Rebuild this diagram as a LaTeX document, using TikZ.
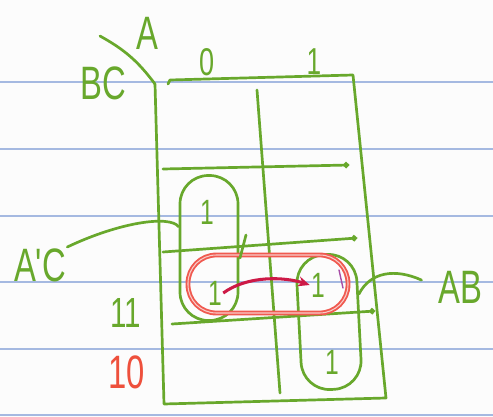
\documentclass[tikz,border=0pt]{standalone}
\usepackage{fontspec}
\newfontfamily\hand[FakeStretch=0.7]{Liberation Sans}
\usetikzlibrary{arrows.meta}
\definecolor{pengreen}{RGB}{104,168,44}
\definecolor{paperblue}{RGB}{165,185,225}
\definecolor{paper}{RGB}{252,252,252}
\definecolor{loopred}{RGB}{240,90,80}
\definecolor{arrowred}{RGB}{205,25,70}
\definecolor{numred}{RGB}{238,80,60}

\begin{document}
\begin{tikzpicture}[
      x=0.03cm, y=-0.03cm,
      pen/.style={draw=pengreen, line width=2.3pt, line cap=round, line join=round},
      rowline/.style={pen, -{Circle[length=5pt]}},
      lbl/.style={text=pengreen, inner sep=1pt, font=\hand\fontsize{40}{40}\selectfont},
      one/.style={text=pengreen, inner sep=1pt, font=\hand\fontsize{30}{30}\selectfont},
      loopbox/.style={pen, rectangle, inner sep=0pt, rounded corners=0.85cm},
      redloop/.style={rectangle, inner sep=0pt, rounded corners=0.85cm, draw=loopred,
        line width=1.6pt, double=paper!70!loopred, double distance=0.9pt,
        minimum width=4.8cm, minimum height=1.74cm},
      arr/.style={-{Stealth[length=3.5mm, width=3mm]}, draw=arrowred, line width=2.6pt},
    ]
    % sheet of lined paper
    \fill[paper] (0,0) rectangle (493,417);
    \useasboundingbox (0,0) rectangle (493,417);
    \foreach \y in {82,149,216,282,349,415}
      \draw[paperblue, line width=1pt] (0,\y) -- (493,\y);

    % map frame
    \draw[pen] (168,84) -- (170,80) -- (353,75) -- (386,398) -- (164,404) -- (155,84);
    \draw[pen] (257,90) -- (280,393);
    \draw[rowline] (163,169) -- (349,165);
    \draw[rowline] (163,252) -- (357,238);
    \draw[rowline] (172,324) -- (375,311);
    \draw[pen] (100,36) to[bend left=12] (155,84);

    % headings
    \node[lbl] (alab) at (147,33) {A};
    \node[lbl] (bclab) at (103,83) {BC};
    \node[lbl, font=\hand\fontsize{33}{33}\selectfont] (a0) at (207,62) {0};
    \node[lbl, font=\hand\fontsize{32}{32}\selectfont] (a1) at (314,62) {1};
    \node[lbl, font=\hand\fontsize{36}{36}\selectfont] (r11) at (126,313) {11};
    \node[lbl, text=numred] (r10) at (127,372) {10};

    % cells
    \node[one] (m1) at (207,212) {1};
    \node[one] (m3) at (215,293) {1};
    \node[one] (m7) at (318,285) {1};
    \node[one] (m6) at (332,362) {1};

    % groups
    \node[loopbox, minimum width=1.74cm, minimum height=4.35cm] (acloop) at (209,248) {};
    \node[loopbox, minimum width=1.8cm, minimum height=4.05cm, rotate=3] (abloop) at (329,322) {};
    \node[redloop] (abred) at (268,284) {};
    \draw[pen] (246,235) -- (240,258);
    \draw[violet!70, line width=1.2pt, line cap=round] (339,270) -- (343,288);
    \draw[arr] (m3.east) .. controls +(25,-18) and +(-25,-8) .. (m7.west);

    % group names
    \node[lbl] (aclab) at (40,265) {A'C};
    \node[lbl] (ablab) at (460,287) {AB};
    \draw[pen] (aclab.north east) .. controls (120,222) and (170,215) .. (acloop.145);
    \draw[pen, shorten >=0.5cm] (abloop.40) .. controls (370,272) and (395,268) .. (ablab.west);
  \end{tikzpicture}
\end{document}
